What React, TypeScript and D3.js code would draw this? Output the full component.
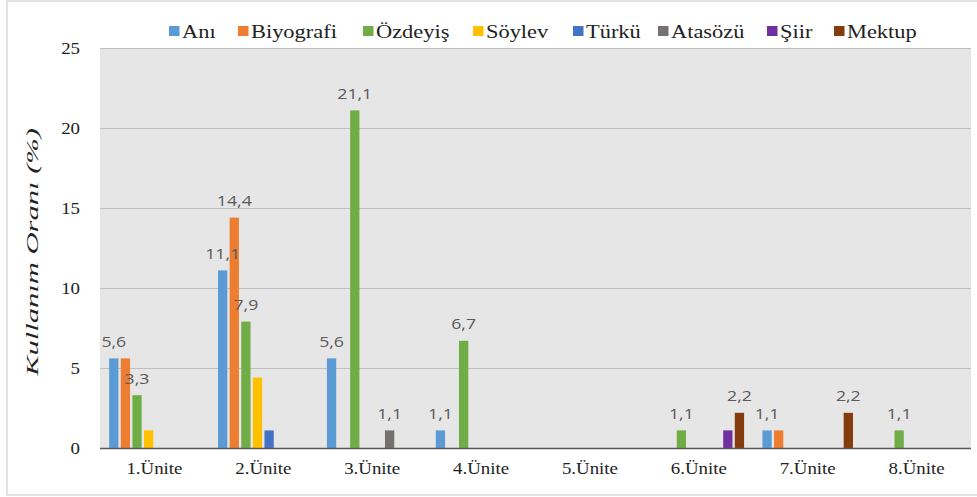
import React from "react";
import * as d3 from "d3";

const CATEGORIES = ["1.Ünite", "2.Ünite", "3.Ünite", "4.Ünite", "5.Ünite", "6.Ünite", "7.Ünite", "8.Ünite"];
const SERIES = ["Anı", "Biyografi", "Özdeyiş", "Söylev", "Türkü", "Atasözü", "Şiir", "Mektup"];
const COLORS = ["#5B9BD5", "#ED7D31", "#70AD47", "#FFC000", "#4472C4", "#767171", "#7030A0", "#843C0C"];

const ANI = [5.6, 11.1, 5.6, 1.1, 0, 0, 1.1, 0];
const BIYOGRAFI = [5.6, 14.4, 0, 0, 0, 0, 1.1, 0];
const OZDEYIS = [3.3, 7.9, 21.1, 6.7, 0, 1.1, 0, 1.1];
const SOYLEV = [1.1, 4.4, 0, 0, 0, 0, 0, 0];
const TURKU = [0, 1.1, 0, 0, 0, 0, 0, 0];
const ATASOZU = [0, 0, 1.1, 0, 0, 0, 0, 0];
const SIIR = [0, 0, 0, 0, 0, 1.1, 0, 0];
const MEKTUP = [0, 0, 0, 0, 0, 2.2, 2.2, 0];
const VALUES = [ANI, BIYOGRAFI, OZDEYIS, SOYLEV, TURKU, ATASOZU, SIIR, MEKTUP];

// data labels that the original chart does not show: [seriesIndex, categoryIndex]
const HIDDEN_LABELS = [[1, 0], [3, 0], [3, 1], [4, 1], [6, 5], [1, 6]];

const Y_TICKS = [0, 5, 10, 15, 20, 25];
const Y_TITLE = "Kullanım Oranı (%)";

// layout
const W = 977;
const H = 497;
const PLOT = { left: 100, right: 971, top: 48, bottom: 448 };
const LEGEND_X = [169, 238, 363, 473, 573, 658, 767, 834];
const SX = 1.18;

const fmt = (v: number) => d3.format(".1f")(v).replace(".", ",");

export default function App() {
  const x0 = d3.scaleBand<string>().domain(CATEGORIES).range([PLOT.left, PLOT.right]).padding(0);
  const bw = x0.bandwidth();
  const x1 = d3
    .scaleBand<string>()
    .domain(SERIES)
    .range([8, bw - 8])
    .paddingInner(0.2)
    .paddingOuter(0.1);
  const y = d3.scaleLinear().domain([0, 25]).range([PLOT.bottom, PLOT.top]);

  const hidden = new Set(HIDDEN_LABELS.map(([s, c]) => `${s}-${c}`));

  const serif = "Liberation Serif, Tinos, Times New Roman, Times, DejaVu Serif, serif";
  const sans = "Open Sans, DejaVu Sans, sans-serif";

  return (
    <svg
      width={W}
      height={H}
      style={{ position: "absolute", left: 0, top: 0, background: "#fff" }}
    >
      <rect x={7} y={1} width={980} height={494} fill="#fff" stroke="#d9d9d9" strokeWidth={1.5} />
      <rect
        x={PLOT.left}
        y={PLOT.top}
        width={PLOT.right - PLOT.left}
        height={PLOT.bottom - PLOT.top}
        fill="#e7e6e6"
      />
      {Y_TICKS.filter((t) => t > 0).map((t) => (
        <line
          key={"g" + t}
          x1={PLOT.left}
          x2={PLOT.right}
          y1={Math.round(y(t)) + 0.5}
          y2={Math.round(y(t)) + 0.5}
          stroke="#bfbfbf"
          strokeWidth={1.2}
        />
      ))}
      {Y_TICKS.map((t) => (
        <text
          key={"yt" + t}
          transform={`translate(80,${y(t) + 6}) scale(${SX},1)`}
          textAnchor="end"
          style={{ fontFamily: serif, fontSize: 16 }}
          fill="#222"
        >
          {t}
        </text>
      ))}
      <text
        transform={`translate(38,${(PLOT.top + PLOT.bottom) / 2 + 4}) rotate(-90)`}
        textAnchor="middle"
        style={{ fontFamily: serif, fontSize: 16, fontStyle: "italic" }}
        textLength={248}
        lengthAdjust="spacingAndGlyphs"
        fill="#222"
      >
        {Y_TITLE}
      </text>

      {CATEGORIES.map((c, ci) => (
        <g key={c} transform={`translate(${x0(c)},0)`}>
          {SERIES.map((s, si) => {
            const v = VALUES[si][ci];
            if (!v) return null;
            return (
              <rect
                key={s}
                x={x1(s)}
                y={y(v)}
                width={x1.bandwidth()}
                height={y(0) - y(v)}
                fill={COLORS[si]}
              />
            );
          })}
        </g>
      ))}

      <line x1={PLOT.left} x2={PLOT.right} y1={448.5} y2={448.5} stroke="#595959" strokeWidth={1.3} />

      {CATEGORIES.map((c, ci) =>
        SERIES.map((s, si) => {
          const v = VALUES[si][ci];
          if (!v || hidden.has(`${si}-${ci}`)) return null;
          const cx = (x0(c) as number) + (x1(s) as number) + x1.bandwidth() / 2;
          return (
            <text
              key={`l${si}-${ci}`}
              transform={`translate(${cx},${y(v) - 11.5}) scale(${SX},1)`}
              textAnchor="middle"
              style={{ fontFamily: sans, fontSize: 15 }}
              fill="#595959"
            >
              {fmt(v)}
            </text>
          );
        })
      )}

      {CATEGORIES.map((c) => (
        <text
          key={"xl" + c}
          transform={`translate(${(x0(c) as number) + bw / 2},474) scale(${SX},1)`}
          textAnchor="middle"
          style={{ fontFamily: serif, fontSize: 16 }}
          fill="#222"
        >
          {c}
        </text>
      ))}

      {SERIES.map((s, si) => (
        <g key={"lg" + s} transform={`translate(${LEGEND_X[si]},0)`}>
          <rect x={0} y={26} width={10.5} height={10} fill={COLORS[si]} />
          <text
            transform={`translate(13,38) scale(${SX},1)`}
            style={{ fontFamily: serif, fontSize: 19 }}
            fill="#222"
          >
            {s}
          </text>
        </g>
      ))}
    </svg>
  );
}
